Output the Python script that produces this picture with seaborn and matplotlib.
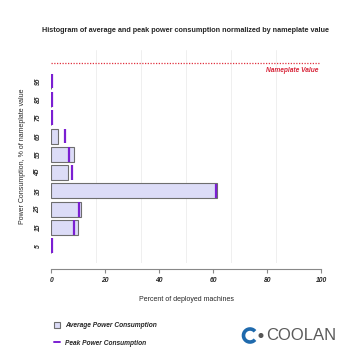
import numpy as np
import pandas as pd
import matplotlib
matplotlib.use("Agg")
import matplotlib.pyplot as plt
import seaborn as sns
from matplotlib.patches import Arc, Circle, Patch
from matplotlib.lines import Line2D

# data
bins = [5, 15, 25, 35, 45, 55, 65, 75, 85, 95]
avg_pct = [0.0, 9.9, 11.1, 61.2, 6.3, 8.3, 2.6, 0.0, 0.0, 0.0]
peak_pct = [0.4, 8.3, 10.1, 61.0, 7.8, 6.7, 5.1, 0.2, 0.2, 0.2]
x_ticks = [0, 20, 40, 60, 80, 100]
nameplate = 105

sns.set_theme(style="white")
plt.rcParams['font.family'] = ['Liberation Sans', 'DejaVu Sans']

W, H = 358, 361
fig = plt.figure(figsize=(W / 100, H / 100), dpi=100)
ax = fig.add_axes([51.3 / W, 1 - 263 / H, 270 / W, 213 / H])

df = pd.DataFrame({"bin": bins, "avg": avg_pct, "peak": peak_pct})
sns.barplot(data=df, x="avg", y="bin", orient="h", native_scale=True,
            width=0.82, color="#dcdcf7", edgecolor="#6e6e6e", linewidth=0.8,
            saturation=1, ax=ax)
ax.vlines(df["peak"], df["bin"] - 4.0, df["bin"] + 4.0, color="#7b1fd2", linewidth=1.6, zorder=5)

ax.set_xlim(0, 100)
ax.set_ylim(-4.4, 112)
for g in np.arange(1, 6) * 100 / 6:
    ax.axvline(g, color="#ececec", linewidth=0.6, zorder=0)

ax.axhline(nameplate, color="#e0303f", linewidth=0.9, linestyle=(0, (1, 1.2)), zorder=3)
ax.text(99, nameplate - 2.5, "Nameplate Value", color="#d8263a", fontsize=4.8,
        fontweight="bold", fontstyle="italic", ha="right", va="top")

for s in ["top", "right", "left"]:
    ax.spines[s].set_visible(False)
ax.spines["bottom"].set_position(("outward", 4))
ax.spines["bottom"].set_bounds(0, 100)
ax.spines["bottom"].set_color("#888888")
ax.spines["bottom"].set_linewidth(0.8)

ax.set_xticks(x_ticks)
ax.set_xticklabels([str(t) for t in x_ticks], fontsize=4.9, fontweight="bold", fontstyle="italic")
ax.tick_params(axis="x", length=3, width=0.8, color="#888888", pad=3, bottom=True)
ax.set_yticks(bins)
ax.set_yticklabels([str(b) for b in bins], fontsize=4.9, fontweight="bold",
                   fontstyle="italic", rotation=90, va="center")
ax.tick_params(axis="y", length=0, pad=7)

ax.set_xlabel("Percent of deployed machines", fontsize=5.0, labelpad=9)
ax.set_ylabel("Power Consumption, % of nameplate value", fontsize=5.0, labelpad=6)

fig.text(186 / W, 1 - 30 / H,
         "Histogram of average and peak power consumption normalized by nameplate value",
         ha="center", va="center", fontsize=5.25, fontweight="bold")

# legend
handles = [Patch(facecolor="#dcdcf7", edgecolor="#6e6e6e", linewidth=0.8),
           Line2D([0], [0], color="#7b1fd2", linewidth=1.4)]
leg = fig.legend(handles, ["Average Power Consumption", "Peak Power Consumption"],
                 loc="upper left", bbox_to_anchor=(48 / W, 1 - 316 / H), frameon=False,
                 prop={"size": 4.8, "weight": "bold", "style": "italic"},
                 handlelength=0.9, handleheight=1.0, handletextpad=0.7, labelspacing=1.5)

# logo
lax = fig.add_axes([236 / W, 1 - 350 / H, 112 / W, 32 / H])
lax.set_xlim(236, 348)
lax.set_ylim(350, 318)
lax.axis("off")
lax.add_patch(Arc((250, 335.5), 13, 13, theta1=40, theta2=320, color="#1f6aad", linewidth=2.6))
lax.add_patch(Circle((261, 335.5), 1.8, color="#555555"))
lax.text(266, 335.5, "COOLAN", fontsize=12, color="#5a5a5a", va="center", ha="left",
         family=["Liberation Sans", "DejaVu Sans"], fontweight="light")

fig.savefig("out.png", dpi=100, facecolor="white")
